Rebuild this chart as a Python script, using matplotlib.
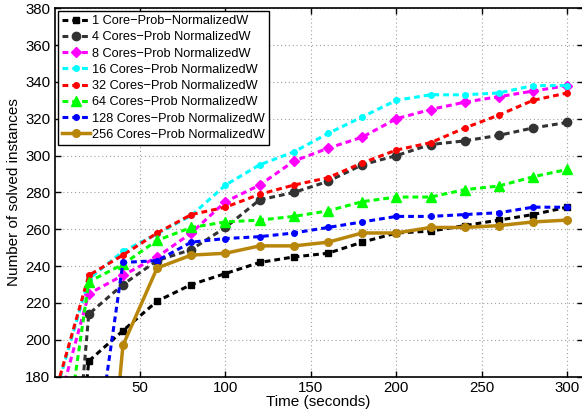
import matplotlib
matplotlib.use("Agg")
import matplotlib.pyplot as plt

plt.rcParams['font.family'] = ['Liberation Sans', 'DejaVu Sans']

# Time points (seconds)
t = [0, 20, 40, 60, 80, 100, 120, 140, 160, 180, 200, 220, 240, 260, 280, 300]

core1   = [0, 188.5, 205, 221, 230, 236, 242, 245, 247, 253, 258, 259, 262, 265, 268, 272]
core4   = [0, 214, 230, 243, 249, 261, 276, 280, 286, 295, 300, 306, 308, 311, 315, 318]
core8   = [157, 225, 235, 245, 258, 275, 284, 297, 304, 310, 320, 325, 329, 332, 335, 338]
core16  = [169, 233, 248, 257.5, 267.5, 284, 295, 302, 312, 321, 330, 333, 333, 334, 338, 338]
core32  = [170, 235, 246, 258, 268, 272, 279, 284, 288, 296, 303, 307, 315, 322, 330, 334]
core64  = [103, 231.5, 241, 254, 261, 264, 265, 267, 270, 275, 277.5, 277.5, 281.5, 283.5, 288.5, 292.5]
core128 = [0, 112, 242, 243, 253, 255, 256, 258, 261, 264, 267, 267, 268, 269, 272, 272]
core256 = [0, 0, 197, 239, 246, 247, 251, 251, 253, 258, 258, 261, 261, 262, 264, 265]

labels = ["1 Core\u2212Prob\u2212NormalizedW",
          "4 Cores\u2212Prob NormalizedW",
          "8 Cores\u2212Prob NormalizedW",
          "16 Cores\u2212Prob NormalizedW",
          "32 Cores\u2212Prob NormalizedW",
          "64 Cores\u2212Prob NormalizedW",
          "128 Cores\u2212Prob NormalizedW",
          "256 Cores\u2212Prob NormalizedW"]

xticks = [50, 100, 150, 200, 250, 300]
yticks = [180, 200, 220, 240, 260, 280, 300, 320, 340, 360, 380]

fig = plt.figure(figsize=(5.82, 4.18), dpi=100)
ax = fig.add_axes([54.6 / 582, 41.3 / 418, 528.0 / 582, 368.5 / 418])

dash = (1.9, 1.3)
lw = 2.2
series = [
    (core1,   '#000000', 's', 5.0, '--'),
    (core4,   '#333333', 'o', 6.0, '--'),
    (core8,   '#FF00FF', 'D', 5.5, '--'),
    (core16,  '#00FFFF', 'o', 4.0, '--'),
    (core32,  '#FF0000', 'o', 4.0, '--'),
    (core64,  '#00FF00', '^', 7.0, '--'),
    (core128, '#0000FF', 'o', 4.0, '--'),
    (core256, '#B8860B', 'o', 5.5, '-'),
]
for (vals, col, mk, ms, ls), lab in zip(series, labels):
    if ls == '--':
        ax.plot(t, vals, color=col, marker=mk, markersize=ms, linewidth=lw,
                linestyle=(0, dash), label=lab, markeredgecolor=col,
                markerfacecolor=col)
    else:
        ax.plot(t, vals, color=col, marker=mk, markersize=ms, linewidth=2.5,
                linestyle='-', label=lab, markeredgecolor=col,
                markerfacecolor=col)

ax.set_xlim(0, 309)
ax.set_ylim(180, 380)
ax.set_xticks(xticks)
ax.set_yticks(yticks)
ax.grid(True, linestyle=(0, (1, 2.5)), color='#a0a0a0', linewidth=0.8)
ax.tick_params(direction='in', top=True, right=True, labelsize=10.8,
               length=4, width=1, pad=3)
for s in ax.spines.values():
    s.set_linewidth(1.2)

ax.set_xlabel("Time (seconds)", fontsize=11, labelpad=0)
ax.set_ylabel("Number of solved instances", fontsize=11, labelpad=3)

leg = ax.legend(loc='upper left', fontsize=9.2, handlelength=2.2,
                handletextpad=0.2, labelspacing=0.33, borderaxespad=0.25,
                borderpad=0.3, fancybox=False, framealpha=1, edgecolor='black',
                numpoints=1)
leg.get_frame().set_linewidth(1.0)

fig.savefig("out.png", dpi=100)
